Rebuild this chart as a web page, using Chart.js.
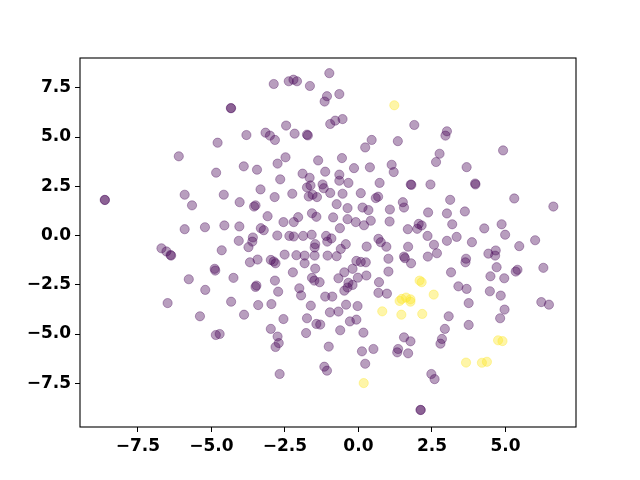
<!DOCTYPE html>
<html>
<head>
<meta charset="utf-8">
<script src="https://cdn.jsdelivr.net/npm/chart.js@4/dist/chart.umd.min.js"></script>
<style>
  html, body { margin: 0; padding: 0; background: #fff; }
  #wrap { width: 640px; height: 480px; }
</style>
</head>
<body>
<div id="wrap"><canvas id="scatterChart" width="640" height="480"></canvas></div>
<script>
// class 0 points (purple)
const purpleX = [
  -6.11, -2.88, -2.37, -2.21, -2.09, -1.65, -0.99, -4.34, -4.33, -1.07,
  -1.15, -2.46, -3.81, -3.16, -3.01, -2.84, -2.17, -1.75, -1.72, -4.79,
  -2.48, -2.75, -3.90, -3.45, -4.84, -1.37, -1.90, -1.66, -1.13, -2.66,
  -1.22, -0.96, -0.65, -0.54, -0.79, 1.90, 3.01, 2.96, 0.45, 0.23,
  1.34, -0.56, -0.15, 0.39, 1.13, 1.20, 2.76, 2.64, -0.65, -0.65,
  -0.34, 0.72, 1.78, 1.80, 2.45, 4.92, 3.68, 3.97, 3.98, -8.63,
  -8.62, -5.91, -5.66, -5.91, -5.22, -6.70, -6.53, -6.39, -6.37, -5.77,
  -5.21, -6.49, -3.33, -4.58, -2.85, -2.25, -1.75, -1.63, -1.69, -1.56,
  -1.41, -1.18, -0.96, -4.04, -3.55, -3.50, -3.09, -2.05, -2.20, -1.58,
  -1.43, -2.55, -4.56, -4.05, -3.32, -3.22, -2.76, -2.35, -2.20, -1.88,
  -1.59, -1.10, -1.06, -0.92, -3.59, -3.61, -4.07, -3.74, -1.47, -1.49,
  -4.65, -2.51, -2.11, -1.83, -1.49, -1.05, -3.43, -3.69, -2.98, -2.88,
  -2.82, -1.83, -1.47, -4.89, -4.87, -2.23, -4.25, -2.84, -1.58, -1.50,
  -1.32, -3.47, -3.50, -2.73, -2.01, -1.95, -1.13, -0.89, -4.33, -3.41,
  -2.96, -1.62, -0.54, 0.08, 0.59, 0.67, 1.51, 1.55, 3.12, -0.74,
  -0.37, 0.14, 0.34, 1.07, 2.37, 3.01, -0.86, -0.37, -0.09, 0.19,
  0.42, 1.06, 2.05, 2.15, 2.00, 1.68, 3.19, -0.63, 2.35, 0.68,
  0.76, 3.01, -0.43, -0.60, 0.28, 0.95, 1.69, 2.57, -0.74, 2.67,
  1.55, 1.58, 2.36, 1.02, -0.07, 0.08, 0.25, 1.79, -0.20, 1.02,
  -0.48, 3.15, -0.68, -0.34, -0.02, 0.27, -0.20, -0.37, 0.70, -0.48,
  0.68, 0.97, -0.42, -0.03, 5.30, 6.63, 3.62, 4.28, 4.87, 3.34,
  3.86, 4.99, 5.47, 6.01, 4.42, 4.67, 4.65, 3.66, 3.64, 4.70,
  5.35, 5.41, 6.29, 4.49, 4.96, 3.40, 3.68, 4.47, 4.84, 3.75,
  6.22, 6.48, 4.97, -5.39, -3.89, -0.97, -2.55, -1.75, -2.98, -1.43,
  -1.30, -4.85, -4.72, -2.75, -2.71, -2.82, -1.78, -1.01, -1.16, -1.07,
  -2.68, -0.68, 3.07, -0.29, -0.07, -0.62, 0.17, 1.55, 1.77, 1.35,
  1.32, 1.69, 2.94, 2.84, 2.79, 0.12, 0.51, 0.23, 2.48, 2.59,
  2.11, 2.12, 4.82, 3.75
]
const purpleY = [
  4.02, 7.69, 7.83, 7.91, 7.83, 7.59, 8.24, 6.47, 6.46, 7.07,
  6.80, 5.58, 5.10, 5.22, 5.07, 4.85, 5.17, 5.12, 5.08, 4.71,
  3.97, 3.65, 3.51, 3.34, 3.19, 3.81, 3.14, 2.93, 3.24, 2.85,
  2.59, 5.66, 7.18, 5.91, 5.83, 5.61, 5.29, 5.07, 4.85, 4.47,
  4.79, 3.93, 3.42, 3.46, 3.59, 3.22, 4.15, 3.73, 3.09, 2.78,
  2.67, 2.67, 2.59, 2.57, 2.59, 4.32, 3.47, 2.64, 2.59, 1.81,
  1.80, 2.07, 1.53, 0.32, 0.42, -0.65, -0.81, -0.99, -1.02, -2.22,
  -2.76, -3.43, 2.34, 2.07, 1.95, 2.12, 2.44, 2.54, 1.98, 2.07,
  1.95, 2.40, 2.16, 1.69, 1.47, 1.53, 0.98, 0.93, 0.68, 1.13,
  0.95, 0.68, 0.51, 0.46, 0.37, 0.27, 0.00, -0.02, -0.05, -0.02,
  0.04, -0.02, -0.31, -0.15, -0.10, -0.31, -0.27, -0.59, -0.44, -0.61,
  -0.75, -0.97, -1.00, -1.02, -1.02, -1.02, -1.22, -1.36, -1.24, -1.32,
  -1.41, -1.41, -1.68, -1.69, -1.78, -1.87, -2.15, -2.29, -2.15, -2.29,
  -2.37, -2.54, -2.61, -2.85, -2.68, -3.04, -3.10, -3.10, -3.36, -3.53,
  -3.48, -3.56, 2.12, 2.15, 1.90, 1.97, 1.69, 1.42, 1.81, 1.59,
  1.39, 1.42, 1.29, 1.32, 1.17, 1.12, 0.92, 0.83, 0.68, 0.52,
  0.75, 0.71, 0.59, 0.51, 0.34, 0.32, 0.57, 0.37, -0.02, -0.17,
  -0.34, -0.27, -0.44, -0.68, -0.56, -0.57, -0.57, -0.47, -1.05, -0.90,
  -1.07, -1.15, -1.07, -1.18, -1.29, -1.34, -1.36, -1.41, -1.69, -1.83,
  -1.87, -1.87, -2.17, -2.40, -2.14, -2.03, -2.51, -2.64, -2.37, -2.80,
  -2.91, -2.95, -3.51, -3.58, 1.88, 1.47, 1.22, 0.36, 0.57, -0.07,
  -0.34, 0.04, -0.54, -0.24, -0.92, -0.76, -1.02, -1.18, -1.36, -1.61,
  -1.83, -1.74, -1.64, -2.07, -2.17, -2.58, -2.71, -2.83, -3.05, -3.43,
  -3.38, -3.51, -3.76, -4.10, -4.02, -3.90, -4.24, -4.20, -4.74, -4.49,
  -4.52, -5.05, -5.00, -5.13, -5.46, -5.66, -4.95, -5.64, -6.66, -6.86,
  -7.03, -3.86, -4.10, -4.36, -4.27, -4.81, -4.93, -5.17, -5.37, -5.76,
  -5.93, -5.98, -4.74, -5.25, -5.49, -5.88, -5.76, -6.51, -7.03, -7.29,
  -8.85, -8.86, -4.20, -4.54
]
// class 1 points (yellow)
const yellowX = [1.22, 2.08, 2.15, 2.56, 1.47, 1.62, 1.77, 1.77, 1.40, 0.81, 1.46, 2.17, 0.18, 4.75, 4.90, 3.66, 4.20, 4.37]
const yellowY = [6.61, -2.29, -2.37, -3.00, -3.22, -3.15, -3.24, -3.36, -3.32, -3.85, -4.02, -3.98, -7.49, -5.32, -5.36, -6.45, -6.46, -6.41]

const xTicks = [-7.5, -5.0, -2.5, 0.0, 2.5, 5.0]
const yTicks = [-7.5, -5.0, -2.5, 0.0, 2.5, 5.0, 7.5]

const toPoints = (xs, ys) => xs.map((x, i) => ({x: x, y: ys[i]}))
const fmt = v => (v < 0 ? '\u2212' : '') + Math.abs(v).toFixed(1)
const tickFont = {family: 'DejaVu Sans', size: 17, weight: 'bold'}

// box around the plot area, like matplotlib spines
const frame = {
  id: 'frame',
  afterDraw(chart) {
    const {ctx, chartArea: a} = chart
    ctx.save()
    ctx.strokeStyle = '#000'
    ctx.lineWidth = 1.1
    ctx.strokeRect(a.left, a.top, a.right - a.left, a.bottom - a.top)
    ctx.restore()
  }
}

const axisBase = (ticks) => ({
  type: 'linear',
  afterBuildTicks: s => { s.ticks = ticks.map(v => ({value: v})) },
  grid: {display: true, drawOnChartArea: false, drawTicks: true, tickLength: 5, color: '#000', lineWidth: 1},
  border: {display: false},
  ticks: {color: '#000', font: tickFont, padding: 4, maxRotation: 0, autoSkip: false, callback: fmt}
})

let ctx = document.getElementById('scatterChart').getContext('2d')

let scatterChart = new Chart(ctx, {
  type: 'scatter',
  data: {
    datasets: [{
      label: '0',
      data: toPoints(purpleX, purpleY),
      backgroundColor: 'rgba(68,1,84,0.38)',
      borderColor: 'rgba(68,1,84,0.38)',
      borderWidth: 0.9,
      pointRadius: 4.6,
      pointHoverRadius: 4.6
    },
    {
      label: '1',
      data: toPoints(yellowX, yellowY),
      backgroundColor: 'rgba(253,231,37,0.4)',
      borderColor: 'rgba(253,231,37,0.4)',
      borderWidth: 0.9,
      pointRadius: 4.6,
      pointHoverRadius: 4.6
    }]
  },
  options: {
    responsive: false,
    animation: false,
    layout: {padding: {top: 58, right: 64, left: 0, bottom: 0}},
    scales: {
      x: Object.assign(axisBase(xTicks), {
        min: -9.47, max: 7.40,
        afterFit: s => { s.height = 53 }
      }),
      y: Object.assign(axisBase(yTicks), {
        min: -9.72, max: 9.01,
        afterFit: s => { s.width = 80 }
      })
    },
    plugins: {
      legend: {display: false},
      tooltip: {enabled: false}
    }
  },
  plugins: [frame]
})
</script>
</body>
</html>
